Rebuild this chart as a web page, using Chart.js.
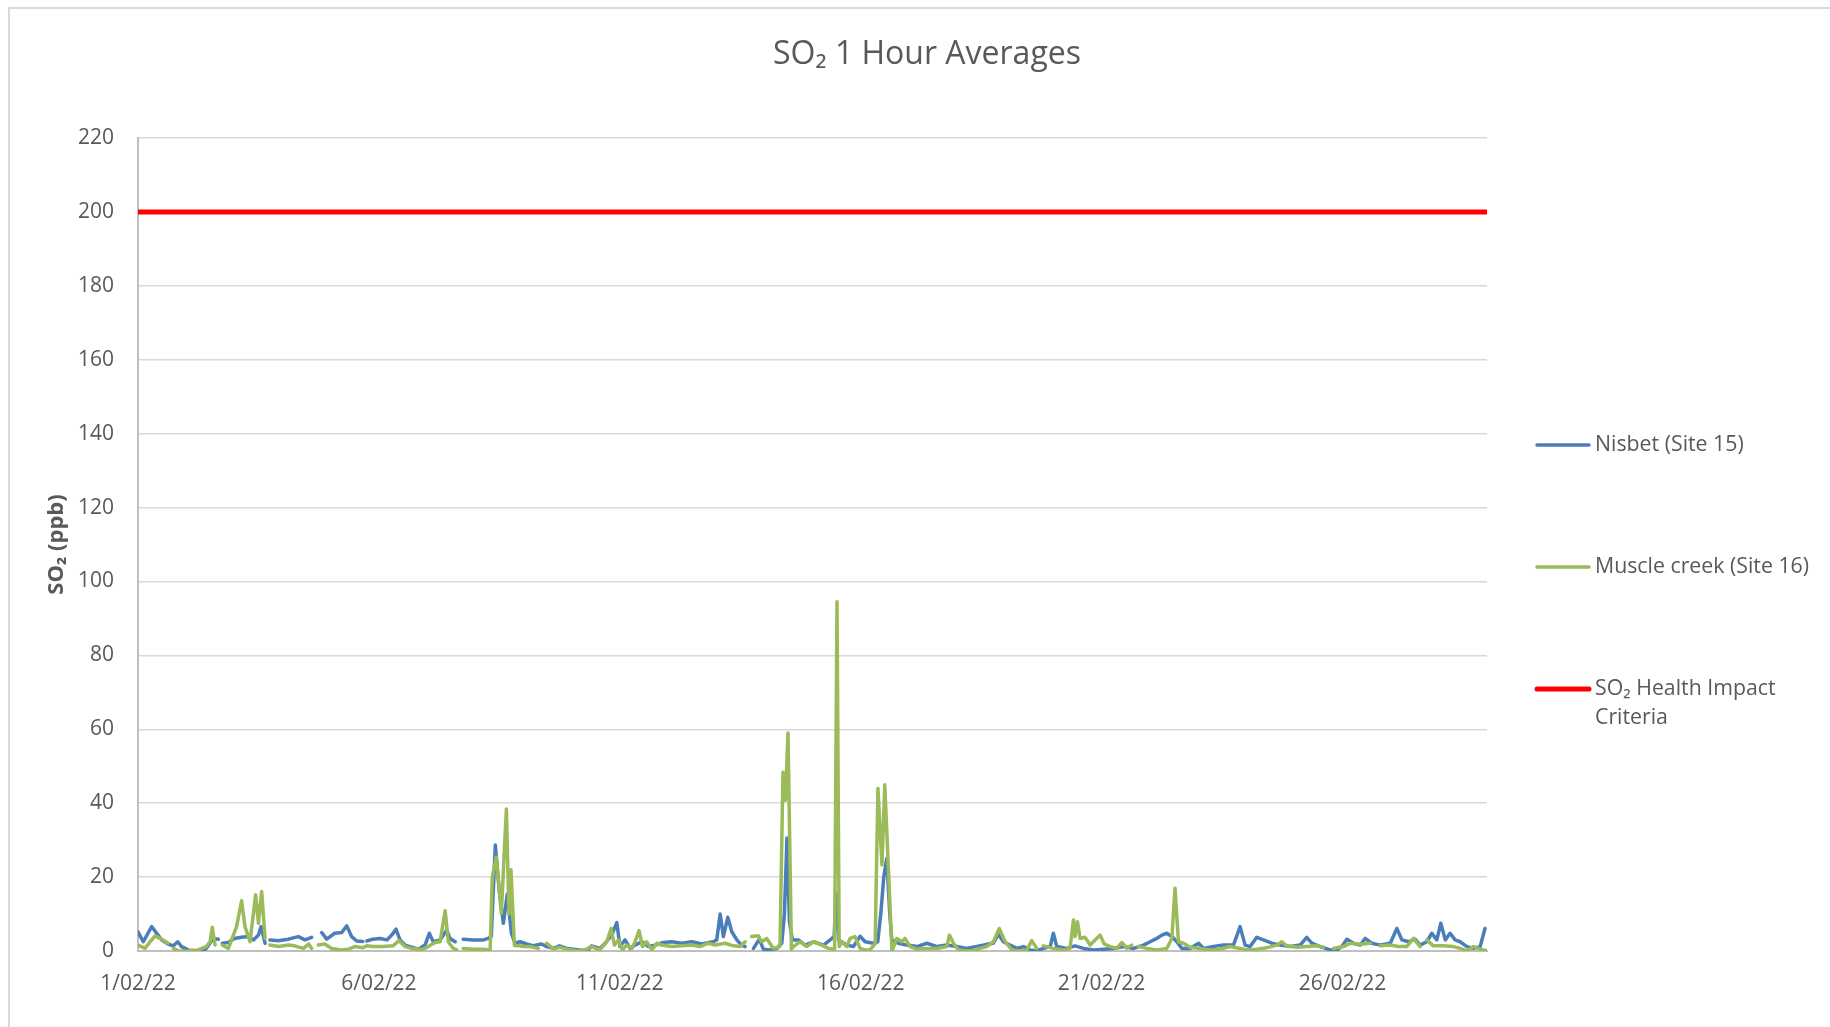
<!DOCTYPE html>
<html>
<head>
<meta charset="utf-8">
<title>SO2 1 Hour Averages</title>
<script src="https://cdn.jsdelivr.net/npm/chart.js@4.4.1/dist/chart.umd.min.js"></script>
<style>
  html, body { margin: 0; padding: 0; background: #fff; }
  #wrap { position: relative; width: 1830px; height: 1027px; overflow: hidden; }
  #frame { position: absolute; left: 8px; top: 7px; width: 1900px; height: 1100px; border: 2px solid #d9d9d9; box-sizing: border-box; }
  canvas { position: absolute; left: 0; top: 0; }
</style>
</head>
<body>
<div id="wrap">
  <div id="frame"></div>
  <canvas id="canvas" width="1830" height="1027"></canvas>
</div>
<script>
// hours since 1/02/22 00:00 (null = gap in the record)
var nisbet = [
  [0,5.2],[2.6,2.5],[6.8,6.6],[9.3,4.8],[11.8,3.0],[15,1.9],[17.6,1.4],[19.8,2.5],[21.7,1.2],[25,0.3],
  [29,0],[31.7,0],[34,0.7],[37.5,3.4],[40,3.2],[41,null],[42,2.1],[45,2.3],[48,3.4],[51.6,3.7],
  [55,3.9],[57.5,3.0],[60,4.3],[61.3,6.6],[63.3,2.1],[64.5,null],[65.7,3.0],[69.9,2.8],[74.9,3.2],[79.9,3.9],
  [83.2,3.0],[86.5,3.7],[88.5,null],[91.5,5.0],[94,3.2],[98,4.8],[101.5,5.0],[104,6.8],[106.4,3.9],[109,2.7],
  [112,2.6],[113,null],[114,2.7],[117,3.2],[120.6,3.4],[124,3.0],[126.4,4.3],[128.5,5.9],[130.5,3.0],[133,1.6],
  [135.5,1.2],[139.7,0.5],[143,1.6],[145.1,4.8],[147.1,2.5],[150.5,3.0],[153.8,5.7],[155.4,3.4],[158,2.5],[160,null],
  [162,3.2],[167,3.0],[172,3.0],[174.5,3.4],[176,4.0],[178,28.7],[180,16],[182,7.5],[184,15.5],[186,4.8],
  [187.8,2.1],[190.3,2.5],[193.6,1.9],[197,1.4],[201,1.9],[203.6,1.2],[207,0.7],[210,1.4],[213.6,0.7],[217,0.5],
  [220,0.3],[224,0.1],[226,1.4],[230,0.7],[232.7,2.1],[236,4.3],[238.5,7.7],[240.1,1.2],[242.6,3.0],[245.1,0.7],
  [247.6,1.6],[251,2.5],[254.3,1.2],[257.6,1.6],[261.7,2.3],[265.9,2.5],[270.9,2.1],[275.8,2.5],[280.8,1.9],[286.6,2.5],
  [288.3,3.0],[290,10],[291.6,3.9],[293.8,9.1],[295.8,5.2],[298.3,3.0],[300.7,1.6],[302.4,1.2],[304,null],[306.6,0.7],
  [309.5,3.2],[311.5,0.5],[314.9,0.3],[318.2,0.7],[320.7,2.1],[322,10],[323.3,30.6],[324.5,8],[326,3.0],[329,3.0],
  [332.3,1.6],[336.5,2.5],[341.5,1.6],[344.8,3.0],[346.8,4.0],[347.7,15.7],[349,3.0],[353,1.6],[356.4,1.2],[359.7,4.0],
  [362.2,2.5],[366.4,2.1],[368.5,2.5],[370,10],[371.5,20],[373,25],[374.5,10],[375.5,3.0],[378.8,2.1],[383,1.6],
  [388,1.2],[393,2.1],[398,1.2],[402.9,1.6],[407.9,1.2],[412.8,0.7],[417.8,1.2],[422.8,1.8],[426.1,2.1],[428.6,4.5],
  [431.1,2.5],[434.4,1.6],[437.8,0.7],[441.1,1.2],[444.4,0.3],[447.7,0],[451,0.7],[454.4,1.2],[456,4.8],[457.7,1.2],
  [462.7,0.7],[466.8,1.4],[471,0.7],[476,0.3],[481,0.5],[485.9,0.7],[490.9,1.2],[495.9,0.7],[500.9,1.6],[504.2,2.5],
  [507.5,3.4],[510,4.3],[512.5,4.8],[515,3.9],[517.5,2.5],[520,0.7],[524.1,0.7],[528.3,2.1],[530.8,0.7],[535.7,1.2],
  [540.7,1.6],[545.7,1.6],[549,6.6],[551.5,1.6],[554,1.2],[557.3,3.7],[560.6,3.0],[564.8,2.1],[569,1.6],[574,1.2],
  [578.9,1.6],[582.2,3.7],[584.7,2.1],[588.9,1.2],[593.9,0.3],[597.2,0.3],[599.7,1.2],[602.2,3.2],[605.5,2.1],[608.8,1.6],
  [611.3,3.4],[614.6,2.1],[618.8,1.6],[623.8,2.1],[627.1,6.1],[629.6,3.0],[632.9,2.5],[636.2,3.2],[638.7,1.6],[642,2.5],
  [644.5,4.8],[647,3.0],[649,7.5],[651.2,3.0],[653.6,4.8],[656.1,3.0],[658.6,2.5],[662,1.2],[665.3,0.7],[668.6,1.2],
  [671,6.1]
];

var muscleCreek = [
  [0,1.6],[3.5,0.7],[6,2.5],[8.5,4.1],[11.8,3.2],[15,2.1],[16,null],[17.6,0.7],[20,0.1],[25,0],
  [30,0.3],[34,1.2],[35.9,2.5],[37,6.4],[38.4,1.6],[40,null],[42,1.6],[45,0.7],[47.5,4.3],[49.1,6.6],
  [51.6,13.6],[53.3,6.6],[55.8,2.5],[58.6,15.2],[60,7.5],[61.6,16.1],[63.3,3.4],[64.5,null],[65.7,1.6],[70,1.2],
  [75,1.6],[78,1.4],[82.4,0.7],[85,1.9],[86.5,0.7],[88.5,null],[89.8,1.6],[93,1.9],[96.5,0.7],[101.5,0.3],
  [104.8,0.5],[108,1.2],[112,0.9],[114,1.4],[117,1.2],[122,1.2],[127,1.4],[130,2.8],[133,1.2],[136.3,0.7],
  [139.7,0.5],[142,0.5],[144.6,1.2],[148,2.3],[150.5,2.5],[153,10.9],[154.6,2.5],[157,0.7],[158.8,0.3],[160,null],
  [162,0.7],[167,0.5],[172,0.5],[175.4,0.3],[176.5,20],[178.5,25.4],[181,10.2],[183.5,38.4],[184.8,10],[185.8,22],
  [187.5,1.5],[190,1.4],[192,1.2],[195.3,1.2],[199.4,0.7],[201,null],[203.6,2.1],[207,0.5],[210,1.0],[213.6,0.5],
  [218.5,0.1],[222.7,0.3],[226,1.2],[230,0.3],[233.5,2.5],[235.7,6.1],[237.3,1.6],[239.3,3.0],[241.3,0.3],[243.4,1.6],
  [246,0.7],[247.6,2.5],[249.6,5.5],[251.3,1.2],[253.4,2.5],[256,0.3],[258.4,2.1],[260.9,1.6],[265.9,1.2],[270.9,1.4],
  [275.8,1.6],[280,1.2],[284.1,2.1],[287.5,1.6],[292.5,2.1],[296.6,1.4],[300,1.2],[302.4,2.5],[304,null],[305.7,3.9],
  [309,4.1],[310.7,2.5],[313.2,3.4],[316.5,0.7],[319.8,1.2],[321.3,48.4],[322.5,40.8],[323.8,59],[325.5,0.5],[326.5,1.2],
  [329.8,2.5],[333.1,1.2],[336.5,2.5],[340.6,1.6],[344,0.7],[347,0.5],[348.2,94.5],[349.3,1.2],[350.6,2.5],[353.1,1.2],
  [354.7,3.4],[357.2,3.9],[359.7,0.7],[362.2,0.3],[364.7,0.3],[367.2,2],[368.6,44],[370.6,23.3],[372,45],[374,20],
  [375.6,0],[378,3.4],[380.5,2.5],[382.1,3.4],[384.6,1.2],[388,0.5],[393,0.7],[398,0.7],[402.9,1.2],[404.2,4.3],
  [406.2,2.1],[408.7,0.3],[414.5,0],[419.5,0.7],[422.8,1.2],[426.1,2.5],[429,6.1],[432,2.5],[435.3,0.3],[439.4,0],
  [442.8,0.3],[445.2,2.8],[447.7,0.7],[449,null],[451,1.4],[456,0.7],[461,0.3],[464.3,0.7],[466,8.4],[466.8,3.9],
  [468,7.9],[469.3,3.4],[471.8,3.7],[474.3,1.6],[476.8,3.0],[479.3,4.3],[481.3,1.9],[484.3,1.2],[487.6,0.7],[490.1,2.3],
  [492.6,0.7],[495,1.6],[496.5,null],[498.4,1.2],[502.5,0.7],[507.5,0.3],[512.5,0.7],[515,3.4],[516.6,17],[518.3,2.5],
  [520.8,2.1],[524.1,1.0],[529.1,0.7],[534.1,0.3],[539.1,0.5],[544,1.2],[549,0.7],[552.3,0.3],[557.3,0.5],[562.3,0.9],
  [567.3,1.6],[569.8,2.5],[572.3,1.4],[577.3,1.0],[582.2,1.2],[587.2,1.4],[590.5,1.0],[592.5,null],[595.5,0.7],[600.5,1.2],
  [603.8,2.1],[608.8,1.8],[613.8,2.1],[616,null],[618.8,1.4],[623.8,1.6],[627.9,1.2],[632,1.2],[635.4,3.4],[638.7,1.2],
  [640,null],[642,3.0],[645.3,1.4],[650.3,1.4],[655.3,1.2],[658.6,0.7],[662,0],[665.3,1.2],[668.6,0.5],[671.9,0.1]
];

var criteria = [[0,200],[672,200]];

var tickHours = [0, 120, 240, 360, 480, 600];
var dateLabels = ['1/02/22', '6/02/22', '11/02/22', '16/02/22', '21/02/22', '26/02/22'];

var grey = '#595959';
var legendY = [445, 567, 689];

function toPoints(rows) {
  return rows.map(function (r) { return { x: r[0], y: r[1] }; });
}

function wrapText(ctx, text, maxWidth) {
  var words = text.split(' ');
  var lines = [];
  var line = '';
  words.forEach(function (w) {
    var test = line ? line + ' ' + w : w;
    if (line && ctx.measureText(test).width > maxWidth) {
      lines.push(line);
      line = w;
    } else {
      line = test;
    }
  });
  lines.push(line);
  return lines;
}

// legend down the right hand side, spaced like the original
var sideLegend = {
  id: 'sideLegend',
  afterDraw: function (chart) {
    var ctx = chart.ctx;
    ctx.save();
    ctx.font = '21.3px "Open Sans"';
    ctx.textBaseline = 'middle';
    chart.data.datasets.forEach(function (ds, i) {
      var y = legendY[i];
      ctx.strokeStyle = ds.borderColor;
      ctx.lineWidth = ds.borderWidth;
      ctx.lineCap = 'round';
      ctx.beginPath();
      ctx.moveTo(1537, y);
      ctx.lineTo(1589, y);
      ctx.stroke();
      ctx.fillStyle = grey;
      wrapText(ctx, ds.label, 240).forEach(function (line, j) {
        ctx.fillText(line, 1595, y + j * 28.5);
      });
    });
    ctx.restore();
  }
};

function draw() {
  Chart.defaults.font.family = '"Open Sans", sans-serif';
  Chart.defaults.color = grey;

  new Chart(document.getElementById('canvas').getContext('2d'), {
    type: 'line',
    data: {
      datasets: [{
        label: 'Nisbet (Site 15)',
        data: toPoints(nisbet),
        borderColor: '#4a7ebb',
        backgroundColor: '#4a7ebb',
        borderWidth: 3.5,
        order: 3
      }, {
        label: 'Muscle creek (Site 16)',
        data: toPoints(muscleCreek),
        borderColor: '#9bbb59',
        backgroundColor: '#9bbb59',
        borderWidth: 3.5,
        order: 2
      }, {
        label: 'SO₂ Health Impact Criteria',
        data: toPoints(criteria),
        borderColor: '#ff0000',
        backgroundColor: '#ff0000',
        borderWidth: 5,
        order: 1
      }]
    },
    options: {
      responsive: false,
      animation: false,
      devicePixelRatio: 1,
      layout: { padding: { left: 24, right: 0, top: 0, bottom: 0 } },
      elements: {
        point: { radius: 0 },
        line: { tension: 0, borderJoinStyle: 'round', borderCapStyle: 'round' }
      },
      spanGaps: false,
      plugins: {
        legend: { display: false },
        tooltip: { enabled: false },
        title: {
          display: true,
          text: 'SO₂ 1 Hour Averages',
          color: grey,
          font: { size: 32, weight: 'normal' },
          padding: { top: 36, bottom: 63.6 }
        }
      },
      scales: {
        x: {
          type: 'linear',
          min: 0,
          max: 672,
          afterBuildTicks: function (s) {
            s.ticks = tickHours.map(function (h) { return { value: h }; });
          },
          afterFit: function (s) { s.height = 76; },
          ticks: {
            autoSkip: false,
            maxRotation: 0,
            padding: 20.5,
            font: { size: 21 },
            callback: function (v) { return dateLabels[tickHours.indexOf(v)]; }
          },
          grid: { display: false, drawTicks: false },
          border: { display: true, color: '#bfbfbf', width: 2 }
        },
        y: {
          min: 0,
          max: 220,
          afterFit: function (s) { s.width = 114; },
          ticks: { stepSize: 20, padding: 24, font: { size: 21 } },
          grid: { color: '#d9d9d9', lineWidth: 1.5, drawTicks: false },
          border: { display: true, color: '#bfbfbf', width: 2 },
          title: {
            display: true,
            text: 'SO₂ (ppb)',
            color: grey,
            font: { size: 22, weight: 'bold' },
            padding: { top: 20, bottom: 0 }
          }
        },
        // empty box that keeps room for the legend on the right
        yRoom: {
          position: 'right',
          display: true,
          afterFit: function (s) { s.width = 343; },
          ticks: { display: false },
          grid: { display: false, drawTicks: false },
          border: { display: false }
        }
      }
    },
    plugins: [sideLegend]
  });
}

document.fonts.load('20px "Open Sans"').then(draw, draw);
</script>
</body>
</html>
